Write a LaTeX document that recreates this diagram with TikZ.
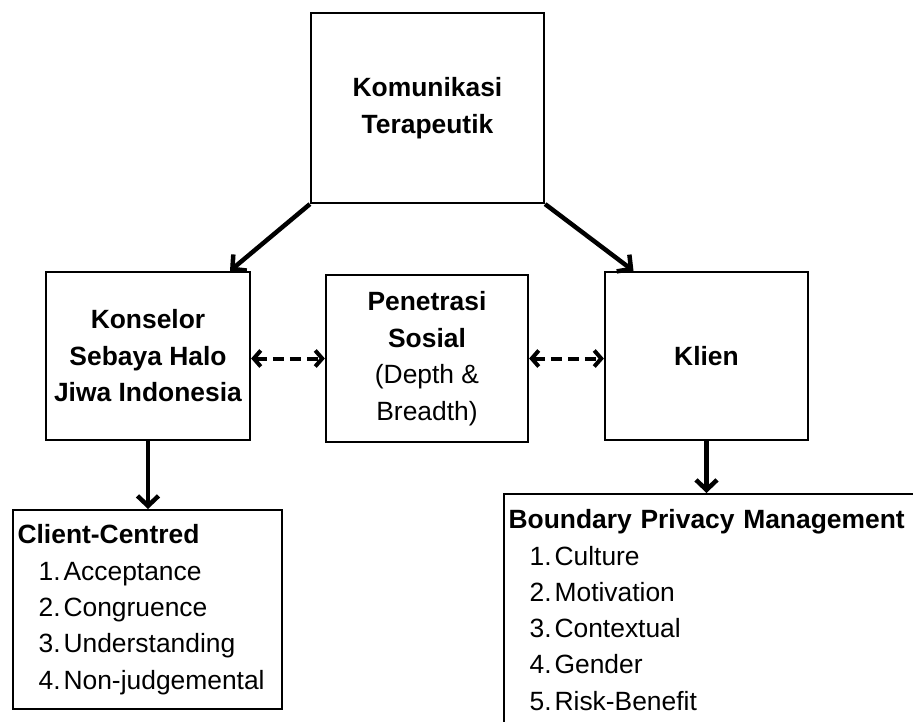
\documentclass[tikz,border=0pt]{standalone}
\usepackage{fontspec}
\setmainfont{Liberation Sans}
\usetikzlibrary{arrows.meta}
\tikzset{
  box/.style={draw=black, line width=2.2pt, align=center, inner sep=0pt,
    font=\fontsize{26.4}{36.5}\selectfont},
  listbox/.style={draw=black, line width=2.2pt, align=left, inner xsep=4.5pt, inner ysep=0pt,
    anchor=north west, font=\fontsize{26.4}{36.3}\selectfont},
  solidarrow/.style={line width=4.5pt, -{Straight Barb[length=10pt,width=21pt]}},
  dasharrow/.style={line width=4pt, dash pattern=on 11pt off 6pt,
    {Straight Barb[length=7pt,width=16pt]}-{Straight Barb[length=7pt,width=16pt]}}
}
\newcommand{\itm}[2]{\hspace*{21pt}\makebox[25pt][l]{#1}#2}
\begin{document}
\begin{tikzpicture}[x=1pt,y=-1pt]
\path[use as bounding box] (0,0) rectangle (913,722);
\clip (0,0) rectangle (913,722);

\node[box, minimum width=233pt, minimum height=190pt] (top) at (427.5,108)
  {\textbf{Komunikasi}\\\textbf{Terapeutik}};
\node[box, minimum width=204pt, minimum height=168pt] (kons) at (148,356)
  {\textbf{Konselor}\\\textbf{Sebaya Halo}\\\textbf{Jiwa Indonesia}};
\node[box, minimum width=202pt, minimum height=167pt] (pen) at (427,358.5)
  {\textbf{Penetrasi}\\\textbf{Sosial}\\(Depth \&\\Breadth)};
\node[box, minimum width=203pt, minimum height=168pt] (klien) at (706.5,356)
  {\textbf{Klien}};

\node[listbox, text width=260pt, minimum height=199pt] (cc) at (12,509)
  {\textbf{Client-Centred}\\
   \itm{1.}{Acceptance}\\
   \itm{2.}{Congruence}\\
   \itm{3.}{Understanding}\\
   \itm{4.}{Non-judgemental}};
\node[listbox, text width=421pt, minimum height=232pt] (bpm) at (503,493)
  {\textbf{Boundary Privacy Management}\\
   \itm{1.}{Culture}\\
   \itm{2.}{Motivation}\\
   \itm{3.}{Contextual}\\
   \itm{4.}{Gender}\\
   \itm{5.}{Risk-Benefit}};

\draw[solidarrow] (top.south west) -- ([xshift=82pt]kons.north);
\draw[solidarrow] (top.south east) -- ([xshift=-73pt]klien.north);
\draw[dasharrow] (pen.west -| kons.east) -- (pen.west);
\draw[dasharrow] (pen.east) -- (pen.east -| klien.west);
\draw[solidarrow] (kons.south) -- (kons.south |- cc.north);
\draw[solidarrow] (klien.south) -- (klien.south |- bpm.north);
\end{tikzpicture}
\end{document}
